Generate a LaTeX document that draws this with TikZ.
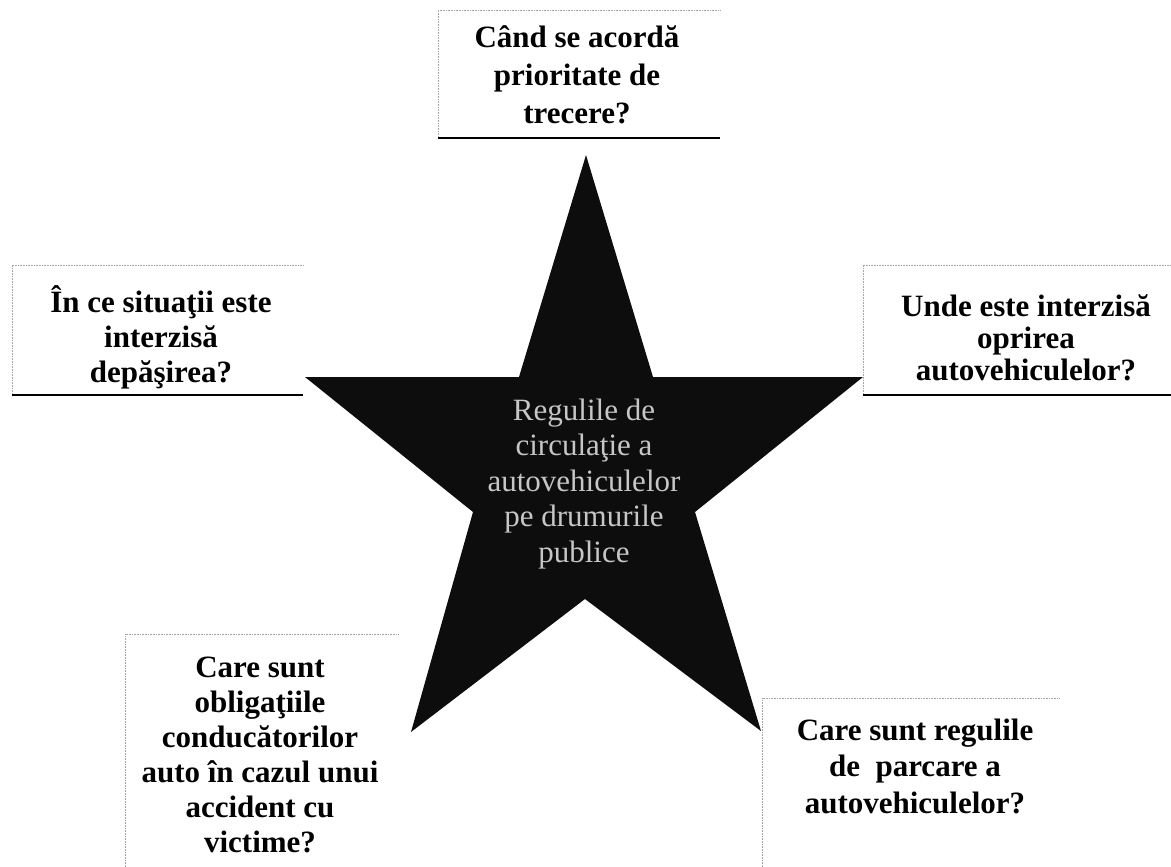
\documentclass[tikz,border=0pt]{standalone}
\usepackage{fontspec}
\setmainfont{Liberation Serif}

\begin{document}
\begin{tikzpicture}[x=1pt,y=-1pt,
	question/.style={align=center, inner sep=0pt, font=\bfseries\fontsize{31}{35}\selectfont},
	frame/.style={gray!70, densely dotted, line width=0.6pt},
	rule/.style={line width=2.5pt}]
	\useasboundingbox (0,0) rectangle (1171,867);
	
	% star
	\fill[black!95] (586,155) -- (653,377) -- (863,377) -- (695,512) -- (761,731)
		-- (585,599) -- (411,732) -- (473,512) -- (305,377) -- (519,377) -- cycle;
	\node [align=center, text=gray!45, font=\fontsize{31}{35.5}\selectfont] (title) at (584,484)
		{Regulile de\\circulaţie a\\autovehiculelor\\pe drumurile\\publice};
	
	% boxes
	\draw[frame] (438,138) -- (438,10) -- (720,10);
	\draw[rule] (438,138) -- (720,138);
	\node [question, font=\bfseries\fontsize{31}{38}\selectfont] (q1) at (577,75)
		{Când se acordă\\prioritate de\\trecere?};
	
	\draw[frame] (12,395) -- (12,265) -- (303,265);
	\draw[rule] (12,395) -- (303,395);
	\node [question] (q2) at (161,337) {În ce situaţii este\\interzisă\\depăşirea?};
	
	\draw[frame] (863,395) -- (863,265) -- (1171,265);
	\draw[rule] (863,395) -- (1171,395);
	\node [question, font=\bfseries\fontsize{31}{32}\selectfont] (q3) at (1026,338)
		{Unde este interzisă\\oprirea\\autovehiculelor?};
	
	\draw[frame] (125,867) -- (125,634) -- (398,634);
	\node [question] (q4) at (260,755)
		{Care sunt\\obligaţiile\\conducătorilor\\auto în cazul unui\\accident cu\\victime?};
	
	\draw[frame] (762,867) -- (762,698) -- (1060,698);
	\node [question, font=\bfseries\fontsize{31}{36.5}\selectfont] (q5) at (915,766)
		{Care sunt regulile\\de\ \ parcare a\\autovehiculelor?};
\end{tikzpicture}
\end{document}
